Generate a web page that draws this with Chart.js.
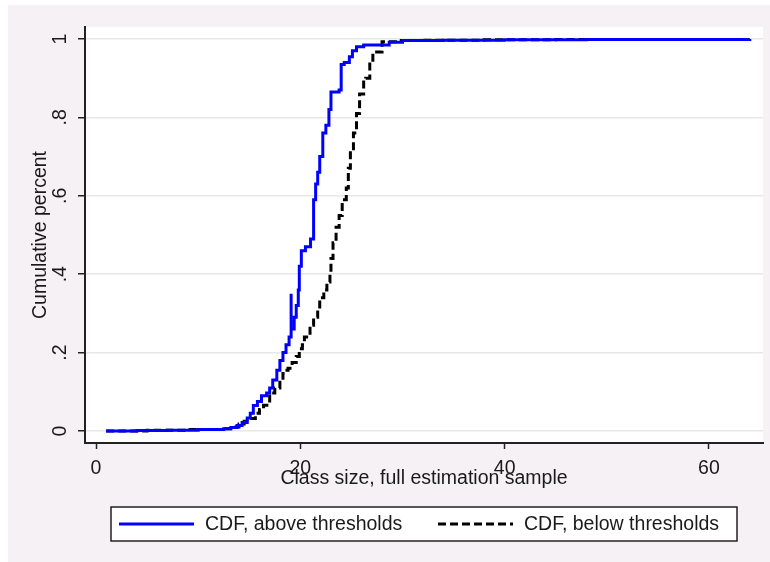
<!DOCTYPE html>
<html>
<head>
<meta charset="utf-8">
<script src="https://cdn.jsdelivr.net/npm/chart.js@4/dist/chart.umd.min.js"></script>
<style>
  html, body { margin: 0; padding: 0; background: #ffffff; }
  #wrap { width: 770px; height: 562px; }
</style>
</head>
<body>
<div id="wrap"><canvas id="c" width="770" height="562"></canvas></div>
<script>
// ---- Data ----
const classSizeAbove = [1, 4, 7, 10, 12.5, 13.2, 13.8, 14.3, 14.8, 15.1, 15.4, 15.8, 16.2, 16.7, 17.0, 17.3, 17.7, 18.0, 18.3, 18.6, 18.9, 19.1, 19.1, 19.4, 19.6, 19.8, 19.9, 20.1, 20.5, 21.0, 21.3, 21.5, 21.7, 21.9, 22.2, 22.5, 22.8, 23.0, 23.8, 24.0, 24.3, 24.8, 25.1, 25.5, 26.2, 28.7, 30, 34, 40, 48, 64];
const cdfAbove       = [0, 0.001, 0.002, 0.004, 0.006, 0.009, 0.014, 0.022, 0.033, 0.045, 0.065, 0.075, 0.09, 0.097, 0.11, 0.13, 0.155, 0.18, 0.20, 0.22, 0.24, 0.35, 0.26, 0.29, 0.32, 0.36, 0.42, 0.46, 0.47, 0.49, 0.59, 0.63, 0.66, 0.70, 0.76, 0.78, 0.82, 0.865, 0.87, 0.935, 0.94, 0.955, 0.97, 0.98, 0.985, 0.992, 0.996, 0.997, 0.998, 0.999, 1.0];

const classSizeBelow = [1, 5, 9, 12.5, 13.3, 14.0, 14.5, 15.1, 15.6, 16.0, 16.4, 17.0, 17.5, 18.0, 18.3, 18.5, 18.8, 19.2, 19.6, 19.9, 20.2, 20.4, 20.95, 21.3, 21.7, 21.9, 22.3, 22.6, 22.9, 23.0, 23.2, 23.5, 23.8, 24.1, 24.5, 24.7, 24.9, 25.2, 25.5, 25.8, 26.2, 26.4, 26.8, 27.1, 28.0, 29.5, 32, 38, 45, 55.7];
const cdfBelow       = [0, 0.002, 0.004, 0.006, 0.01, 0.018, 0.025, 0.032, 0.045, 0.055, 0.066, 0.097, 0.11, 0.13, 0.147, 0.155, 0.16, 0.175, 0.19, 0.21, 0.22, 0.24, 0.27, 0.29, 0.31, 0.34, 0.36, 0.38, 0.40, 0.44, 0.48, 0.52, 0.55, 0.59, 0.62, 0.67, 0.72, 0.76, 0.81, 0.86, 0.895, 0.90, 0.94, 0.967, 0.993, 0.996, 0.997, 0.998, 0.999, 1.0];

const xTicks = [0, 20, 40, 60];
const yTicks = [0, 0.2, 0.4, 0.6, 0.8, 1];
const seriesLabels = ['CDF, above thresholds', 'CDF, below thresholds'];
const xTitle = 'Class size, full estimation sample';
const yTitle = 'Cumulative percent';

// ---- Styling ----
const FONT = { family: '"Liberation Sans", Arial, sans-serif', size: 19.5, lineHeight: 1.2 };
const TEXT = '#1a1a1a';
const PALE = '#f5f1f5';

function toPoints(xs, ys) { return xs.map((x, i) => ({ x: x, y: ys[i] })); }

const backgroundPlugin = {
  id: 'bg',
  beforeDraw(chart) {
    const ctx = chart.ctx, a = chart.chartArea;
    ctx.save();
    ctx.fillStyle = '#ffffff';
    ctx.fillRect(0, 0, chart.width, chart.height);
    ctx.fillStyle = PALE;
    ctx.fillRect(8, 5, chart.width - 8, chart.height - 5);
    ctx.fillStyle = '#ffffff';
    ctx.fillRect(a.left, a.top, a.right - a.left, a.bottom - a.top);
    ctx.restore();
  }
};

const legendPlugin = {
  id: 'boxLegend',
  afterDraw(chart) {
    const ctx = chart.ctx;
    const a = chart.chartArea;
    const boxW = 626, boxH = 34;
    const cx = (a.left + a.right) / 2;
    const bx = cx - boxW / 2, by = 507;
    ctx.save();
    ctx.fillStyle = '#ffffff';
    ctx.fillRect(bx, by, boxW, boxH);
    ctx.strokeStyle = '#222';
    ctx.lineWidth = 1.5;
    ctx.strokeRect(bx, by, boxW, boxH);
    const midY = by + boxH / 2;
    const itemOffsets = [8, 327];
    ctx.font = FONT.size + 'px ' + FONT.family;
    ctx.textBaseline = 'middle';
    ctx.textAlign = 'left';
    chart.data.datasets.forEach((ds, i) => {
      const sx = bx + itemOffsets[i];
      ctx.beginPath();
      ctx.strokeStyle = ds.borderColor;
      ctx.lineWidth = ds.borderWidth;
      ctx.setLineDash(ds.borderDash || []);
      ctx.moveTo(sx, midY);
      ctx.lineTo(sx + 75, midY);
      ctx.stroke();
      ctx.setLineDash([]);
      ctx.fillStyle = TEXT;
      ctx.fillText(ds.label, sx + 86, midY + 1);
    });
    ctx.restore();
  }
};

new Chart(document.getElementById('c'), {
  type: 'line',
  data: {
    datasets: [
      {
        label: seriesLabels[0],
        data: toPoints(classSizeAbove, cdfAbove),
        borderColor: '#0000ff',
        borderWidth: 3,
        pointRadius: 0,
        stepped: true,
        fill: false
      },
      {
        label: seriesLabels[1],
        data: toPoints(classSizeBelow, cdfBelow),
        borderColor: '#000000',
        borderWidth: 3,
        borderDash: [8, 4],
        pointRadius: 0,
        stepped: true,
        fill: false
      }
    ]
  },
  options: {
    responsive: false,
    animation: false,
    devicePixelRatio: 1,
    layout: { padding: { left: 0, right: 7, top: 27, bottom: 0 } },
    plugins: {
      legend: { display: false },
      tooltip: { enabled: false }
    },
    scales: {
      x: {
        type: 'linear',
        min: -1.077,
        max: 65.29,
        afterBuildTicks: s => { s.ticks = xTicks.map(v => ({ value: v })); },
        afterFit: s => { s.height = 119; },
        grid: { display: true, drawOnChartArea: false, drawTicks: true, tickLength: 6, tickColor: '#222', tickWidth: 1.5 },
        border: { display: true, color: '#222', width: 2 },
        ticks: { font: FONT, color: TEXT, padding: 8, maxRotation: 0, autoSkip: false },
        title: { display: true, text: xTitle, font: FONT, color: TEXT, padding: { top: 0, bottom: 72 } }
      },
      y: {
        type: 'linear',
        min: -0.0306,
        max: 1.0306,
        afterBuildTicks: s => { s.ticks = yTicks.map(v => ({ value: v })); },
        afterFit: s => { s.width = 85; },
        grid: { display: true, drawOnChartArea: true, color: '#e8e8e8', lineWidth: 1.5, drawTicks: true, tickLength: 7, tickColor: '#222', tickWidth: 1.5 },
        border: { display: true, color: '#222', width: 2 },
        ticks: {
          font: FONT, color: TEXT, padding: 9, minRotation: 90, maxRotation: 90, crossAlign: 'center', autoSkip: false,
          callback: v => (v === 0 ? '0' : v === 1 ? '1' : String(Math.round(v * 10) / 10).replace(/^0\./, '.'))
        },
        title: { display: true, text: yTitle, font: FONT, color: TEXT, padding: { top: 29, bottom: 0 } }
      }
    }
  },
  plugins: [backgroundPlugin, legendPlugin]
});
</script>
</body>
</html>
